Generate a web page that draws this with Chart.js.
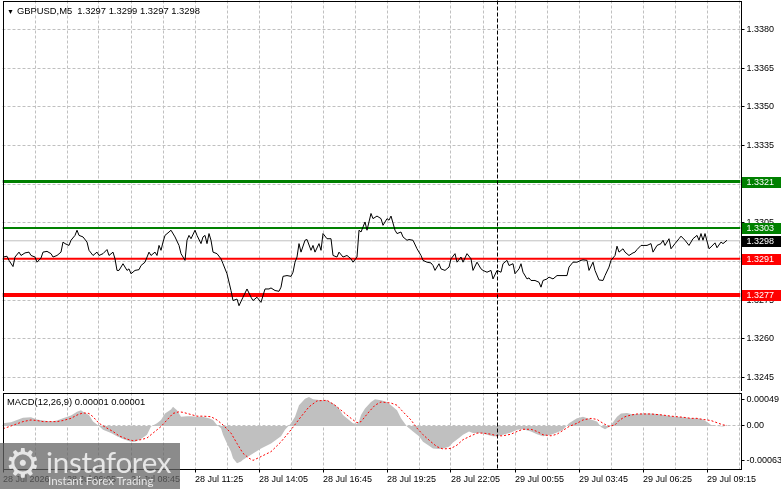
<!DOCTYPE html>
<html>
<head>
<meta charset="utf-8">
<title>GBPUSD M5</title>
<script src="https://cdn.jsdelivr.net/npm/chart.js@4.4.0/dist/chart.umd.min.js"></script>
<style>
  html, body { margin: 0; padding: 0; background: #fff; }
  #wrap { position: relative; width: 781px; height: 489px; overflow: hidden; font-family: 'Liberation Sans', Arial, sans-serif; }
  canvas { position: absolute; left: 0; }
  #priceChart { top: 0; }
  #macdChart { top: 391px; }
  .caption { position: absolute; font-size: 9.4px; line-height: 11px; color: #000; white-space: pre; }
  #title { left: 7px; top: 5px; }
  #title .arrow { font-size: 7px; margin-right: 3px; }
  #macdTitle { left: 7px; top: 396px; }
  #logo { position: absolute; left: 0; top: 443px; width: 180px; height: 46px; background: rgba(100, 100, 100, 0.75); color: #e6e6e6; }
  #logo .gear { position: absolute; left: 5px; top: -3px; font: 40px 'DejaVu Sans', sans-serif; }
  #logo .brand { position: absolute; left: 46px; top: 1px; font: 29.5px Lato, sans-serif; letter-spacing: -0.3px; }
  #logo .slogan { position: absolute; left: 48px; top: 31px; font: 11.5px Lato, sans-serif; }
</style>
</head>
<body>
<div id="wrap">
  <canvas id="priceChart" width="781" height="391"></canvas>
  <canvas id="macdChart" width="781" height="98"></canvas>
  <div id="title" class="caption"></div>
  <div id="macdTitle" class="caption"></div>
  <div id="logo"><span class="gear">⚙</span><span class="brand">instaforex</span><span class="slogan">Instant Forex Trading</span></div>
</div>
<script>
// ---- data (x = bar number, 5 minute bars) ----
const symbol = 'GBPUSD';
const period = 'M5';
const lastOhlc = [1.3297, 1.3299, 1.3297, 1.3298];
const bidPrice = 1.3298;
const levelValues = [1.3321, 1.3303, 1.3291, 1.3277];
const separatorBar = 247; // 29 Jul 00:00

const priceBar = [0, 2, 3, 5, 6, 8, 9, 11, 13, 14, 16, 17, 19, 20, 22, 24, 25, 27, 29, 30,
  31, 33, 34, 36, 37, 38, 40, 42, 43, 45, 47, 48, 50, 52, 53, 55, 56, 57, 58, 60,
  62, 63, 64, 66, 68, 69, 71, 73, 74, 76, 77, 78, 79, 80, 81, 83, 84, 86, 88, 89,
  90, 91, 92, 93, 94, 96, 97, 99, 100, 101, 102, 103, 104, 105, 107, 109, 110, 112, 114, 115,
  117, 118, 120, 122, 124, 125, 127, 129, 131, 133, 134, 136, 138, 139, 140, 142, 144, 145, 146, 147,
  148, 149, 151, 152, 154, 155, 156, 158, 159, 160, 162, 164, 165, 167, 168, 170, 172, 174, 175, 177,
  178, 179, 181, 182, 184, 185, 187, 189, 190, 192, 193, 194, 196, 197, 199, 200, 202, 203, 205, 207,
  209, 210, 212, 214, 215, 216, 218, 219, 221, 223, 224, 226, 227, 229, 230, 232, 234, 235, 237, 239,
  240, 242, 244, 245, 247, 249, 250, 252, 253, 255, 256, 258, 259, 260, 262, 263, 264, 266, 268, 269,
  270, 272, 273, 275, 277, 279, 280, 282, 283, 285, 287, 289, 290, 292, 293, 295, 296, 298, 300, 301,
  303, 304, 306, 307, 308, 310, 311, 313, 315, 316, 317, 319, 320, 322, 324, 325, 327, 329, 330, 331,
  333, 334, 336, 338, 339, 341, 343, 345, 347, 348, 349, 350, 351, 353, 354, 356, 357, 359, 360, 362];
const priceClose = [1.32917, 1.32920, 1.32904, 1.32880, 1.32917, 1.32936, 1.32923, 1.32933, 1.32936, 1.32923,
  1.32917, 1.32897, 1.32913, 1.32936, 1.32939, 1.32930, 1.32917, 1.32923, 1.32936, 1.32975,
  1.32969, 1.32962, 1.32982, 1.33001, 1.33021, 1.33001, 1.32995, 1.32975, 1.32943, 1.32923,
  1.32936, 1.32923, 1.32930, 1.32946, 1.32923, 1.32936, 1.32910, 1.32865, 1.32865, 1.32891,
  1.32865, 1.32871, 1.32852, 1.32865, 1.32868, 1.32884, 1.32897, 1.32936, 1.32923, 1.32936,
  1.32923, 1.32962, 1.32943, 1.32975, 1.33001, 1.33014, 1.33021, 1.32995, 1.32962, 1.32930,
  1.32917, 1.32904, 1.32982, 1.33001, 1.32988, 1.33021, 1.33001, 1.32969, 1.32995, 1.33001,
  1.32969, 1.33008, 1.32982, 1.32936, 1.32930, 1.32910, 1.32891, 1.32852, 1.32787, 1.32748,
  1.32754, 1.32728, 1.32761, 1.32793, 1.32761, 1.32748, 1.32761, 1.32741, 1.32793, 1.32793,
  1.32797, 1.32787, 1.32784, 1.32800, 1.32842, 1.32845, 1.32842, 1.32858, 1.32897, 1.32917,
  1.32969, 1.32936, 1.32982, 1.32985, 1.32943, 1.32962, 1.32936, 1.32969, 1.32943, 1.33008,
  1.32988, 1.32988, 1.32923, 1.32917, 1.32936, 1.32917, 1.32923, 1.32910, 1.32897, 1.32917,
  1.33021, 1.33014, 1.33053, 1.33021, 1.33086, 1.33066, 1.33076, 1.33066, 1.33040, 1.33066,
  1.33060, 1.33076, 1.33021, 1.33008, 1.33014, 1.32995, 1.32982, 1.32985, 1.32982, 1.32949,
  1.32923, 1.32904, 1.32897, 1.32894, 1.32884, 1.32865, 1.32891, 1.32871, 1.32865, 1.32878,
  1.32910, 1.32930, 1.32897, 1.32917, 1.32897, 1.32930, 1.32910, 1.32865, 1.32897, 1.32871,
  1.32865, 1.32858, 1.32865, 1.32832, 1.32865, 1.32858, 1.32891, 1.32904, 1.32884, 1.32891,
  1.32852, 1.32871, 1.32891, 1.32858, 1.32832, 1.32836, 1.32826, 1.32826, 1.32819, 1.32800,
  1.32826, 1.32832, 1.32839, 1.32832, 1.32845, 1.32845, 1.32845, 1.32845, 1.32878, 1.32897,
  1.32897, 1.32904, 1.32906, 1.32904, 1.32865, 1.32897, 1.32865, 1.32828, 1.32826, 1.32845,
  1.32878, 1.32904, 1.32923, 1.32959, 1.32936, 1.32949, 1.32936, 1.32923, 1.32933, 1.32936,
  1.32946, 1.32962, 1.32962, 1.32962, 1.32969, 1.32936, 1.32962, 1.32969, 1.32982, 1.32962,
  1.32988, 1.32949, 1.32969, 1.32988, 1.32998, 1.32982, 1.32962, 1.32988, 1.33001, 1.32982,
  1.33008, 1.32982, 1.33008, 1.32949, 1.32956, 1.32972, 1.32953, 1.32975, 1.32969, 1.32982];

// MACD(12,26,9): main line (histogram) and signal line
const macdBar = [0, 4, 7, 10, 14, 17, 20, 24, 27, 30, 34, 37, 39, 40, 43, 45, 48, 50, 54, 57,
  60, 64, 66, 69, 72, 74, 77, 79, 81, 84, 85, 87, 89, 92, 94, 97, 100, 103, 105, 107,
  109, 110, 112, 114, 115, 117, 119, 120, 123, 129, 134, 139, 141, 144, 146, 148, 151, 153, 155, 159,
  162, 165, 168, 170, 173, 175, 177, 178, 179, 181, 184, 186, 189, 192, 194, 197, 199, 202, 205, 208,
  210, 213, 215, 218, 220, 223, 225, 228, 230, 233, 235, 239, 242, 245, 247, 250, 254, 257, 260, 264,
  267, 270, 274, 277, 280, 283, 287, 290, 294, 297, 299, 301, 303, 304, 307, 309, 312, 314, 317, 320,
  324, 327, 330, 334, 337, 340, 344, 347, 350, 353, 354, 357, 360, 362];
const macdMain = [0.00005, 0.00007, 0.00011, 0.00015, 0.00016, 0.00012, 0.00010, 0.00008, 0.00010, 0.00014,
  0.00019, 0.00026, 0.00029, 0.00026, 0.00020, 0.00008, 0.00000, -0.00007, -0.00013, -0.00019,
  -0.00024, -0.00029, -0.00029, -0.00024, -0.00016, -0.00001, 0.00005, 0.00011, 0.00023, 0.00030,
  0.00035, 0.00029, 0.00017, 0.00018, 0.00018, 0.00017, 0.00017, 0.00014, 0.00011, 0.00002,
  -0.00004, -0.00016, -0.00032, -0.00047, -0.00059, -0.00068, -0.00065, -0.00062, -0.00055, -0.00041,
  -0.00032, -0.00019, -0.00007, 0.00005, 0.00017, 0.00038, 0.00050, 0.00053, 0.00049, 0.00047,
  0.00047, 0.00041, 0.00032, 0.00020, 0.00011, 0.00005, 0.00004, 0.00008, 0.00020, 0.00032,
  0.00044, 0.00049, 0.00047, 0.00044, 0.00038, 0.00029, 0.00014, -0.00001, -0.00010, -0.00019,
  -0.00029, -0.00036, -0.00041, -0.00042, -0.00041, -0.00038, -0.00030, -0.00022, -0.00016, -0.00010,
  -0.00013, -0.00013, -0.00016, -0.00019, -0.00019, -0.00016, -0.00012, -0.00007, -0.00006, -0.00010,
  -0.00015, -0.00019, -0.00016, -0.00012, -0.00007, 0.00005, 0.00014, 0.00017, 0.00012, 0.00008,
  -0.00002, -0.00006, -0.00002, 0.00002, 0.00017, 0.00023, 0.00024, 0.00022, 0.00022, 0.00023,
  0.00023, 0.00022, 0.00020, 0.00018, 0.00017, 0.00016, 0.00014, 0.00014, 0.00012, 0.00005,
  0.00002, 0.00000, -0.00001, 0.00001];
const signalBar = [0, 4, 7, 10, 14, 17, 20, 24, 27, 30, 34, 37, 40, 43, 45, 48, 52, 55, 58, 62,
  65, 69, 72, 75, 79, 82, 85, 88, 90, 94, 97, 100, 104, 107, 110, 114, 117, 120, 123, 125,
  129, 134, 139, 144, 149, 153, 157, 162, 166, 170, 174, 177, 179, 183, 186, 189, 194, 197, 200, 204,
  207, 210, 214, 217, 220, 224, 227, 230, 234, 237, 240, 244, 247, 250, 254, 257, 260, 264, 267, 270,
  274, 277, 280, 283, 287, 290, 294, 297, 300, 303, 306, 308, 311, 314, 317, 320, 324, 327, 330, 334,
  337, 340, 344, 347, 350, 354, 357, 360, 362];
const signalLine = [-0.00005, 0.00000, 0.00004, 0.00008, 0.00011, 0.00010, 0.00008, 0.00008, 0.00008, 0.00010,
  0.00014, 0.00020, 0.00024, 0.00023, 0.00017, 0.00005, -0.00004, -0.00010, -0.00018, -0.00024,
  -0.00027, -0.00025, -0.00022, -0.00013, -0.00001, 0.00011, 0.00023, 0.00026, 0.00025, 0.00021,
  0.00018, 0.00018, 0.00017, 0.00011, 0.00002, -0.00013, -0.00032, -0.00050, -0.00059, -0.00063,
  -0.00056, -0.00047, -0.00029, -0.00007, 0.00017, 0.00035, 0.00046, 0.00047, 0.00038, 0.00026,
  0.00014, 0.00006, 0.00008, 0.00026, 0.00038, 0.00044, 0.00042, 0.00038, 0.00026, 0.00011,
  -0.00004, -0.00016, -0.00029, -0.00038, -0.00042, -0.00041, -0.00035, -0.00025, -0.00018, -0.00013,
  -0.00013, -0.00015, -0.00018, -0.00018, -0.00015, -0.00010, -0.00006, -0.00006, -0.00010, -0.00016,
  -0.00018, -0.00015, -0.00008, -0.00001, 0.00005, 0.00011, 0.00014, 0.00012, 0.00005, -0.00001,
  0.00002, 0.00010, 0.00017, 0.00020, 0.00022, 0.00022, 0.00022, 0.00021, 0.00020, 0.00018,
  0.00017, 0.00016, 0.00014, 0.00014, 0.00012, 0.00010, 0.00006, 0.00002, 0.00001];
const macdLast = [0.00001, 0.00001];

// axis ticks
const priceTicks = [1.3245, 1.3260, 1.3275, 1.3290, 1.3305, 1.3320, 1.3335, 1.3350, 1.3365, 1.3380];
const macdTicks = [-0.00063, 0, 0.00049];
const timeBars = [0, 32, 64, 96, 128, 160, 192, 224, 256, 288, 320, 352];
const timeLabels = ['28 Jul 2026', '28 Jul 06:05', '28 Jul 08:45', '28 Jul 11:25', '28 Jul 14:05', '28 Jul 16:45',
  '28 Jul 19:25', '28 Jul 22:05', '29 Jul 00:55', '29 Jul 03:45', '29 Jul 06:25', '29 Jul 09:15'];

// ---- look ----
const X_MIN = -0.25, X_MAX = 368.75;
const GRID_STEP = 16;
const gridBars = [];
for (let b = 0; b <= X_MAX; b += GRID_STEP) gridBars.push(b);
const GRID = '#c0c0c0';
const CLEAR = 'rgba(0,0,0,0)';
const AXIS_W = 40.5;
const levelStyle = [
  { color: '#008000', width: 3 },
  { color: '#008000', width: 2 },
  { color: '#ff0000', width: 2 },
  { color: '#ff0000', width: 4 }
];

Chart.defaults.font.family = "'Liberation Sans', Arial, sans-serif";
Chart.defaults.font.size = 9;
Chart.defaults.color = '#000';

document.getElementById('title').innerHTML =
  '<span class="arrow">▼</span>' + symbol + ',' + period + '  ' + lastOhlc.map(v => v.toFixed(4)).join(' ');
document.getElementById('macdTitle').textContent =
  'MACD(12,26,9) ' + macdLast.map(v => v.toFixed(5)).join(' ');

const toPoints = (xs, ys) => xs.map((b, i) => ({ x: b, y: ys[i] }));
const flat = v => [{ x: X_MIN, y: v }, { x: X_MAX, y: v }];
const setTicks = list => scale => { scale.ticks = list.map(v => ({ value: v })); };
// keep the axis from pushing the pane in for its half-height labels
const fixedRight = s => { s.width = AXIS_W; s.paddingTop = 0; s.paddingBottom = 0; };

// frame round the pane and the dashed day separator
const paneFrame = {
  id: 'paneFrame',
  afterDatasetsDraw(chart) {
    const { ctx, chartArea: a, scales: { x } } = chart;
    ctx.save();
    ctx.lineWidth = 1;
    ctx.strokeStyle = '#000';
    const sx = Math.round(x.getPixelForValue(separatorBar)) + 0.5;
    ctx.setLineDash([4, 2]);
    ctx.beginPath();
    ctx.moveTo(sx, a.top);
    ctx.lineTo(sx, a.bottom);
    ctx.stroke();
    ctx.setLineDash([]);
    ctx.strokeRect(Math.round(a.left) + 0.5, Math.round(a.top) + 0.5,
      Math.round(a.right - a.left), Math.round(a.bottom - a.top));
    ctx.restore();
  }
};

// coloured price tags on the right axis
const levelTags = {
  id: 'levelTags',
  afterDraw(chart) {
    const { ctx, chartArea: a, scales: { y } } = chart;
    const tags = levelValues.map((v, i) => ({ v, bg: levelStyle[i].color }));
    tags.push({ v: bidPrice, bg: '#000' });
    ctx.save();
    ctx.font = "9px 'Liberation Sans', Arial, sans-serif";
    ctx.textBaseline = 'middle';
    tags.forEach(t => {
      const py = Math.round(y.getPixelForValue(t.v));
      ctx.fillStyle = t.bg;
      ctx.fillRect(Math.round(a.right) + 1, py - 5, chart.width - a.right, 11);
      ctx.fillStyle = '#fff';
      ctx.fillText(t.v.toFixed(4), a.right + 6, py + 0.5);
    });
    ctx.restore();
  }
};

new Chart(document.getElementById('priceChart'), {
  type: 'line',
  data: {
    datasets: [
      { data: toPoints(priceBar, priceClose), borderColor: '#000', borderWidth: 1, order: 0 },
      { data: flat(bidPrice), borderColor: GRID, borderWidth: 1, order: 9 },
      ...levelValues.map((v, i) => ({
        data: flat(v), borderColor: levelStyle[i].color, borderWidth: levelStyle[i].width, order: 1
      }))
    ]
  },
  options: {
    responsive: false,
    animation: false,
    events: [],
    elements: { point: { radius: 0 }, line: { tension: 0 } },
    layout: { padding: { left: 2.5, top: 0.5, right: 0, bottom: 0.5 } },
    plugins: { legend: { display: false }, tooltip: { enabled: false } },
    scales: {
      x: {
        type: 'linear', min: X_MIN, max: X_MAX,
        afterBuildTicks: setTicks(gridBars),
        afterFit: s => { s.height = 0; s.paddingLeft = 0; s.paddingRight = 0; },
        ticks: { display: false },
        grid: { color: c => (c.tick && c.tick.value === 0 ? CLEAR : GRID), drawTicks: false },
        border: { display: false, dash: [3, 2] }
      },
      y: {
        position: 'right', min: 1.32399, max: 1.339125,
        afterBuildTicks: setTicks(priceTicks),
        afterFit: fixedRight,
        ticks: { padding: 2, callback: v => v.toFixed(4) },
        grid: { color: GRID, tickColor: '#000', tickLength: 4 },
        border: { display: false, dash: [3, 2] }
      }
    }
  },
  plugins: [paneFrame, levelTags]
});

new Chart(document.getElementById('macdChart'), {
  type: 'line',
  data: {
    datasets: [
      { data: toPoints(signalBar, signalLine), borderColor: '#ff0000', borderWidth: 1, borderDash: [2, 2], order: 0 },
      { data: toPoints(macdBar, macdMain), borderWidth: 0, borderColor: CLEAR, backgroundColor: '#c0c0c0', fill: 'origin', order: 1 }
    ]
  },
  options: {
    responsive: false,
    animation: false,
    events: [],
    elements: { point: { radius: 0 }, line: { tension: 0 } },
    layout: { padding: { left: 2.5, top: 1.5, right: 0, bottom: 0 } },
    plugins: { legend: { display: false }, tooltip: { enabled: false } },
    scales: {
      x: {
        type: 'linear', min: X_MIN, max: X_MAX,
        afterBuildTicks: setTicks(gridBars),
        afterFit: s => { s.height = 20.5; s.paddingLeft = 0; s.paddingRight = 0; },
        ticks: {
          align: 'start', autoSkip: false, maxRotation: 0, minRotation: 0, padding: 2,
          callback: v => { const i = timeBars.indexOf(v); return i >= 0 ? timeLabels[i] : ''; }
        },
        grid: {
          color: c => (c.tick && c.tick.value === 0 ? CLEAR : GRID),
          tickColor: c => (c.tick && timeBars.includes(c.tick.value) ? '#000' : CLEAR),
          tickLength: 4
        },
        border: { display: false, dash: [3, 2] }
      },
      y: {
        position: 'right', min: -0.000778, max: 0.000613,
        afterBuildTicks: setTicks(macdTicks),
        afterFit: fixedRight,
        ticks: { padding: 2, callback: v => (v === 0 ? '0.00' : v.toFixed(5)) },
        grid: { color: c => (c.tick && c.tick.value === 0 ? GRID : CLEAR), tickColor: '#000', tickLength: 4 },
        border: { display: false, dash: [3, 2] }
      }
    }
  },
  plugins: [paneFrame]
});
</script>
</body>
</html>
